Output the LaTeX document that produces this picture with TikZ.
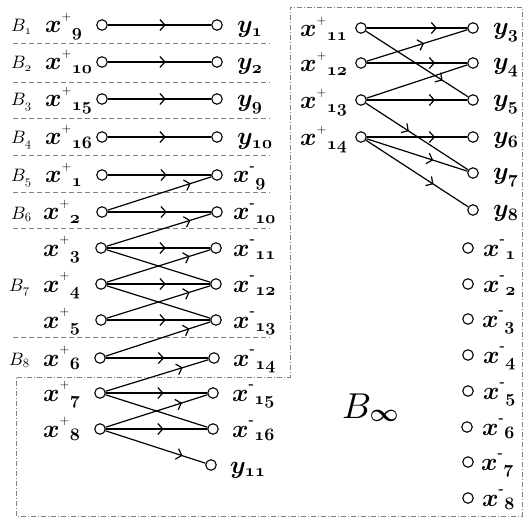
\documentclass[tikz,border=0pt]{standalone}
\usetikzlibrary{arrows.meta,decorations.markings}
\DeclareFontFamily{OML}{mycmm}{\skewchar\font'177}
\DeclareFontShape{OML}{mycmm}{m}{it}{<->cmmi10}{}
\DeclareFontShape{OML}{mycmm}{b}{it}{<->cmmib10}{}
\DeclareFontFamily{OMS}{mycmsy}{\skewchar\font'60}
\DeclareFontShape{OMS}{mycmsy}{b}{n}{<->cmbsy10}{}
\DeclareFontFamily{OT1}{mycmr}{}
\DeclareFontShape{OT1}{mycmr}{m}{n}{<->cmr10}{}
\DeclareMathAlphabet{\mathbfi}{OML}{mycmm}{b}{it}
\DeclareMathAlphabet{\mathmi}{OML}{mycmm}{m}{it}
\DeclareSymbolFont{boldsyms}{OMS}{mycmsy}{b}{n}
\DeclareMathSymbol{\binfty}{\mathord}{boldsyms}{"31}
\DeclareSymbolFont{myops}{OT1}{mycmr}{m}{n}
\DeclareMathSymbol{\pplus}{\mathord}{myops}{"2B}
\newcommand{\xplab}[1]{$\mathbfi{x}^{\raisebox{3pt}{$\scriptscriptstyle\pplus$}}{}_{\mathbfi{#1}}$}
\newcommand{\xmlab}[1]{$\mathbfi{x}^{\raisebox{3pt}{\fontsize{14}{14}\selectfont\bfseries -}}{}_{\mathbfi{#1}}$}
\newcommand{\ylab}[1]{$\mathbfi{y}_{\mathbfi{#1}}$}
\newcommand{\blab}[1]{$\mathmi{B}_{\mathmi{#1}}$}
\tikzset{
  vtx/.style={circle,draw,line width=1.1pt,minimum size=10.5pt,inner sep=0pt},
  tlab/.style={anchor=base west,inner sep=0pt,font=\fontsize{25}{28}\selectfont},
  bst/.style={anchor=base west,inner sep=0pt,font=\fontsize{18}{20}\selectfont},
  edg/.style={line width=1.2pt},
  ar/.style={edg,postaction={decorate},decoration={markings,mark=at position #1 with {\arrow{Straight Barb[length=5pt,width=11pt]}}}},
  seprule/.style={gray,line width=0.8pt,dash pattern=on 5pt off 3pt},
  bbox/.style={gray,line width=0.8pt,dash pattern=on 5pt off 2pt on 1pt off 2pt}
}
\begin{document}
\begin{tikzpicture}[x=1pt,y=-1pt]
\useasboundingbox (0,0) rectangle (526,518);
% separators and box
\draw[seprule] (13,43) -- (270,43);
\draw[seprule] (13,82) -- (270,82);
\draw[seprule] (13,118) -- (270,118);
\draw[seprule] (13,155) -- (270,155);
\draw[seprule] (13,192) -- (270,192);
\draw[seprule] (13,228) -- (270,228);
\draw[seprule] (13,337) -- (270,337);
\draw[bbox] (16,516) -- (16,377) -- (290,377) -- (290,7) -- (522,7) -- (522,516) -- cycle;
% left column circles
\node[vtx] (L1) at (102,25) {};   \node[vtx] (R1) at (217,25) {};
\node[vtx] (L2) at (102,62) {};   \node[vtx] (R2) at (217,62) {};
\node[vtx] (L3) at (102,99) {};   \node[vtx] (R3) at (217,99) {};
\node[vtx] (L4) at (102,137) {};  \node[vtx] (R4) at (217,137) {};
\node[vtx] (L5) at (102,175) {};  \node[vtx] (R5) at (217,175) {};
\node[vtx] (L6) at (102,212) {};  \node[vtx] (R6) at (217,212) {};
\node[vtx] (L7) at (101,248) {};  \node[vtx] (R7) at (216,248) {};
\node[vtx] (L8) at (101,284) {};  \node[vtx] (R8) at (216,284) {};
\node[vtx] (L9) at (101,320) {};  \node[vtx] (R9) at (216,320) {};
\node[vtx] (L10) at (100,358) {}; \node[vtx] (R10) at (214,358) {};
\node[vtx] (L11) at (100,393) {}; \node[vtx] (R11) at (213,393) {};
\node[vtx] (L12) at (100,429) {}; \node[vtx] (R12) at (213,429) {};
\node[vtx] (R13) at (211,465) {};
% left column labels
\node[bst] (b1) at (11,32) {\blab{1}};
\node[bst] (b2) at (11,69) {\blab{2}};
\node[bst] (b3) at (11,106) {\blab{3}};
\node[bst] (b4) at (11,144) {\blab{4}};
\node[bst] (b5) at (11,182) {\blab{5}};
\node[bst] (b6) at (11,219) {\blab{6}};
\node[bst] (b7) at (9,291) {\blab{7}};
\node[bst] (b8) at (9,365) {\blab{8}};
\node[tlab] (tL1) at (45,33) {\xplab{9}};
\node[tlab] (tL2) at (45,70) {\xplab{10}};
\node[tlab] (tL3) at (45,107) {\xplab{15}};
\node[tlab] (tL4) at (45,145) {\xplab{16}};
\node[tlab] (tL5) at (45,183) {\xplab{1}};
\node[tlab] (tL6) at (43,220) {\xplab{2}};
\node[tlab] (tL7) at (43,256) {\xplab{3}};
\node[tlab] (tL8) at (43,292) {\xplab{4}};
\node[tlab] (tL9) at (43,328) {\xplab{5}};
\node[tlab] (tL10) at (43,366) {\xplab{6}};
\node[tlab] (tL11) at (43,401) {\xplab{7}};
\node[tlab] (tL12) at (43,437) {\xplab{8}};
\node[tlab] (tR1) at (237,33) {\ylab{1}};
\node[tlab] (tR2) at (237,70) {\ylab{2}};
\node[tlab] (tR3) at (237,107) {\ylab{9}};
\node[tlab] (tR4) at (237,145) {\ylab{10}};
\node[tlab] (tR5) at (233,183) {\xmlab{9}};
\node[tlab] (tR6) at (233,220) {\xmlab{10}};
\node[tlab] (tR7) at (233,256) {\xmlab{11}};
\node[tlab] (tR8) at (233,292) {\xmlab{12}};
\node[tlab] (tR9) at (233,328) {\xmlab{13}};
\node[tlab] (tR10) at (233,366) {\xmlab{14}};
\node[tlab] (tR11) at (232,401) {\xmlab{15}};
\node[tlab] (tR12) at (232,437) {\xmlab{16}};
\node[tlab] (tR13) at (230,473) {\ylab{11}};
% left column edges
\draw[ar=0.56] (L1) -- (R1);
\draw[ar=0.56] (L2) -- (R2);
\draw[ar=0.56] (L3) -- (R3);
\draw[ar=0.56] (L4) -- (R4);
\draw[ar=0.57] (L5) -- (R5);
\draw[ar=0.8] (L6) -- (R5);
\draw[ar=0.57] (L6) -- (R6);
\draw[ar=0.8] (L7) -- (R6);
\draw[ar=0.57] (L7) -- (R7);
\draw[edg] (L7) -- (R8);
\draw[ar=0.8] (L8) -- (R7);
\draw[ar=0.57] (L8) -- (R8);
\draw[edg] (L8) -- (R9);
\draw[ar=0.8] (L9) -- (R8);
\draw[ar=0.57] (L9) -- (R9);
\draw[ar=0.8] (L10) -- (R9);
\draw[ar=0.57] (L10) -- (R10);
\draw[ar=0.75] (L11) -- (R10);
\draw[ar=0.57] (L11) -- (R11);
\draw[edg] (L11) -- (R12);
\draw[ar=0.75] (L12) -- (R11);
\draw[ar=0.57] (L12) -- (R12);
\draw[ar=0.77] (L12) -- (R13);
% right column
\node[vtx] (X11) at (361,28) {};
\node[vtx] (X12) at (361,63) {};
\node[vtx] (X13) at (361,100) {};
\node[vtx] (X14) at (361,137) {};
\node[vtx] (Y3) at (473,28) {};
\node[vtx] (Y4) at (473,63) {};
\node[vtx] (Y5) at (473,100) {};
\node[vtx] (Y6) at (473,137) {};
\node[vtx] (Y7) at (473,173) {};
\node[vtx] (Y8) at (473,210) {};
\node[tlab] (tX11) at (300,37) {\xplab{11}};
\node[tlab] (tX12) at (300,72) {\xplab{12}};
\node[tlab] (tX13) at (300,109) {\xplab{13}};
\node[tlab] (tX14) at (300,146) {\xplab{14}};
\node[tlab] (tY3) at (493,35) {\ylab{3}};
\node[tlab] (tY4) at (493,70) {\ylab{4}};
\node[tlab] (tY5) at (493,107) {\ylab{5}};
\node[tlab] (tY6) at (493,144) {\ylab{6}};
\node[tlab] (tY7) at (493,180) {\ylab{7}};
\node[tlab] (tY8) at (493,217) {\ylab{8}};
\draw[ar=0.7] (X11) -- (Y3);
\draw[ar=0.75] (X11) -- (Y5);
\draw[ar=0.57] (X12) -- (Y3);
\draw[ar=0.68] (X12) -- (Y4);
\draw[edg] (X13) -- (Y4);
\draw[ar=0.68] (X13) -- (Y5);
\draw[ar=0.42] (X13) -- (Y7);
\draw[ar=0.68] (X14) -- (Y6);
\draw[ar=0.66] (X14) -- (Y7);
\draw[ar=0.66] (X14) -- (Y8);
% B infinity column
\node[vtx] (M1) at (468,248) {};
\node[vtx] (M2) at (468,284) {};
\node[vtx] (M3) at (468,319) {};
\node[vtx] (M4) at (468,355) {};
\node[vtx] (M5) at (468,391) {};
\node[vtx] (M6) at (467,427) {};
\node[vtx] (M7) at (468,462) {};
\node[vtx] (M8) at (468,498) {};
\node[tlab] (tM1) at (483,256) {\xmlab{1}};
\node[tlab] (tM2) at (483,292) {\xmlab{2}};
\node[tlab] (tM3) at (482,327) {\xmlab{3}};
\node[tlab] (tM4) at (483,363) {\xmlab{4}};
\node[tlab] (tM5) at (483,399) {\xmlab{5}};
\node[tlab] (tM6) at (482,435) {\xmlab{6}};
\node[tlab] (tM7) at (481,470) {\xmlab{7}};
\node[tlab] (tM8) at (482,506) {\xmlab{8}};
\node[anchor=base west,inner sep=0pt,font=\fontsize{36}{40}\selectfont] (binf) at (342,418) {$\mathmi{B}_{\binfty}$};
\end{tikzpicture}
\end{document}
